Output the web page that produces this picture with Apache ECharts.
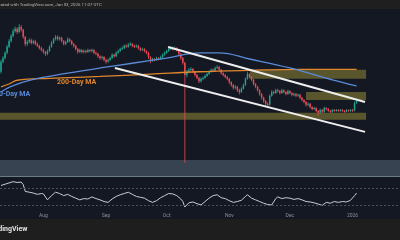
<!DOCTYPE html>
<html><head><meta charset="utf-8">
<script src="https://cdn.jsdelivr.net/npm/echarts@6/dist/echarts.min.js"></script>
<style>html,body{margin:0;padding:0;background:#141823;overflow:hidden}#c{width:400px;height:240px}</style>
</head><body><div id="c"></div>
<script>
// ---------- data ----------
const startDate = '2025-07-11';
const totalSlots = 198;           // daily slots incl. empty right margin
const open0 = 2.70;
const closes = [2.91,2.99,3.10,3.23,3.35,3.46,3.56,3.61,3.54,3.65,
3.59,3.44,3.29,3.33,3.37,3.31,3.35,3.29,3.25,3.20,
3.16,3.12,3.08,3.14,3.23,3.31,3.39,3.44,3.39,3.42,
3.35,3.29,3.33,3.39,3.35,3.29,3.25,3.18,3.12,3.16,
3.12,3.14,3.12,3.16,3.14,3.16,3.10,3.08,3.03,2.99,
3.01,2.95,2.91,2.95,2.99,3.06,3.03,3.10,3.14,3.18,
3.20,3.25,3.23,3.27,3.29,3.25,3.23,3.25,3.20,3.16,
3.18,3.14,3.10,3.01,2.93,2.97,2.95,2.99,2.97,3.01,
3.06,3.10,3.14,3.18,3.20,3.18,3.20,3.16,3.08,2.99,
2.89,2.63,2.70,2.74,2.76,2.70,2.63,2.57,2.50,2.55,
2.57,2.61,2.65,2.70,2.74,2.72,2.78,2.80,2.74,2.67,
2.63,2.59,2.55,2.48,2.42,2.36,2.38,2.31,2.27,2.34,
2.42,2.55,2.65,2.59,2.53,2.44,2.38,2.31,2.23,2.15,
2.08,2.02,2.00,2.19,2.27,2.25,2.31,2.29,2.25,2.31,
2.27,2.23,2.29,2.25,2.21,2.23,2.19,2.21,2.15,2.10,
2.06,2.00,2.02,1.95,1.91,1.93,1.87,1.83,1.89,1.85,
1.93,1.91,1.87,1.85,1.89,1.87,1.89,1.87,1.89,1.87,
1.85,1.89,1.87,1.89,1.88,2.04,2.08];
const highs = [2.95,3.03,3.13,3.27,3.39,3.50,3.61,3.66,3.64,3.71,
3.69,3.61,3.46,3.37,3.41,3.40,3.38,3.37,3.32,3.27,
3.23,3.19,3.14,3.17,3.26,3.35,3.42,3.48,3.47,3.45,
3.44,3.37,3.36,3.43,3.41,3.37,3.31,3.27,3.20,3.19,
3.18,3.17,3.17,3.19,3.18,3.19,3.18,3.13,3.10,3.05,
3.04,3.03,2.98,2.98,3.02,3.09,3.08,3.13,3.17,3.21,
3.24,3.28,3.28,3.31,3.33,3.31,3.28,3.28,3.27,3.22,
3.21,3.20,3.16,3.12,3.03,3.00,2.99,3.02,3.01,3.04,
3.09,3.13,3.17,3.22,3.24,3.23,3.24,3.22,3.18,3.10,
3.01,2.91,2.74,2.78,2.80,2.78,2.72,2.65,2.59,2.58,
2.60,2.64,2.68,2.73,2.77,2.77,2.81,2.84,2.82,2.76,
2.69,2.65,2.61,2.57,2.50,2.44,2.42,2.40,2.34,2.37,
2.45,2.58,2.70,2.67,2.61,2.55,2.46,2.40,2.33,2.25,
2.17,2.10,2.05,2.22,2.31,2.30,2.34,2.34,2.31,2.34,
2.33,2.29,2.32,2.31,2.27,2.26,2.25,2.24,2.23,2.17,
2.12,2.08,2.05,2.04,1.97,1.96,1.95,1.89,1.92,1.91,
1.96,1.95,1.93,1.89,1.91,1.91,1.91,1.91,1.91,1.91,
1.89,1.91,1.90,1.91,1.91,2.07,2.12];
const lows = [2.66,2.88,2.96,3.07,3.20,3.32,3.43,3.53,3.50,3.52,
3.55,3.40,3.24,3.25,3.30,3.28,3.28,3.26,3.22,3.17,
3.13,3.08,3.03,3.05,3.12,3.21,3.29,3.36,3.36,3.36,
3.32,3.26,3.26,3.31,3.32,3.26,3.21,3.15,3.08,3.10,
3.09,3.09,3.09,3.10,3.11,3.11,3.07,3.05,2.99,2.95,
2.96,2.92,2.87,2.89,2.93,2.97,3.00,3.01,3.08,3.12,
3.16,3.18,3.20,3.21,3.25,3.22,3.20,3.21,3.17,3.13,
3.14,3.11,3.07,2.97,2.88,2.91,2.92,2.93,2.94,2.95,
2.99,3.04,3.08,3.12,3.16,3.15,3.16,3.13,3.04,2.95,
2.85,0.77,2.58,2.67,2.71,2.67,2.60,2.54,2.46,2.47,
2.52,2.55,2.59,2.63,2.68,2.69,2.70,2.76,2.71,2.64,
2.60,2.56,2.52,2.44,2.38,2.32,2.33,2.27,2.22,2.25,
2.32,2.40,2.53,2.56,2.50,2.41,2.35,2.28,2.19,2.11,
2.04,1.97,1.93,1.98,2.17,2.22,2.23,2.26,2.22,2.23,
2.24,2.20,2.21,2.22,2.18,2.18,2.16,2.17,2.12,2.07,
2.03,1.96,1.97,1.92,1.88,1.89,1.84,1.77,1.81,1.82,
1.83,1.88,1.85,1.82,1.83,1.85,1.85,1.85,1.85,1.85,
1.83,1.84,1.85,1.85,1.85,1.86,2.02];
// moving averages: [day index, price]
const ma100 = [[0,2.27],[4.5,2.38],[15,2.53],[33,2.67],[49,2.78],[65,2.88],[82,2.99],[98.5,3.10],[108,3.10],[123,2.97],[143,2.78],[164,2.53],[176,2.40]];
const ma200 = [[0,2.38],[4,2.44],[8,2.52],[24,2.56],[49,2.60],[74,2.65],[98,2.70],[123,2.73],[148,2.75],[176,2.75]];
// RSI: [day index, value]
const rsi = [[0,76],[2,79],[4,82],[6,85],[8,83],[10,84],[11,78],[12,62],[14,60],[16,58],[18,55],[20,57],[21,56],[23,42],[25,52],[27,60],[29,57],[31,52],[33,55],[35,50],[37,46],[39,42],[41,45],[43,44],[45,49],[47,45],[49,42],[51,38],[53,36],[55,44],[57,50],[59,54],[61,57],[63,60],[65,55],[67,50],[69,48],[71,46],[73,40],[75,36],[77,40],[79,47],[81,52],[83,57],[85,56],[87,52],[89,44],[90,38],[91,25],[93,35],[95,37],[97,33],[99,30],[101,38],[103,46],[105,52],[107,54],[109,47],[111,45],[113,40],[115,36],[117,38],[119,41],[121,50],[122,54],[124,46],[126,42],[128,38],[130,34],[132,31],[134,30],[136,45],[137,49],[139,45],[141,47],[143,46],[145,43],[147,45],[149,42],[151,38],[153,37],[155,35],[157,32],[159,29],[161,36],[163,34],[165,38],[167,36],[169,38],[171,37],[173,41],[175,52],[176,58]];
const rsiLevels = [70, 30];
// trend channel: [day index, price]
const upperChannel = [[82.7,3.225],[180.2,2.06]];
const lowerChannel = [[56.4,2.78],[180.2,1.425]];
// horizontal zones: [fromDay, toDay, topPrice, bottomPrice]
const zones = [[123.3,180.7,2.74,2.55],[151.0,180.7,2.27,2.10],[-0.5,180.7,1.83,1.68]];
const lowBand = [-0.5,197.5,0.83,0.49];
const monthTicks = {21:'Aug',52:'Sep',82:'Oct',113:'Nov',143:'Dec',174:'2026'};
const maLabels = ['200-Day MA','100-Day MA'];

// ---------- build ----------
const cats = [];
{ const d0 = new Date(startDate + 'T00:00:00Z');
  for (let i = 0; i < totalSlots; i++) { const d = new Date(d0.getTime() + i*86400000); cats.push(d.toISOString().slice(0,10)); } }
const candles = closes.map((c,i) => [i, i === 0 ? open0 : closes[i-1], c, lows[i], highs[i]]);
const UP = '#22a48f', DOWN = '#ee4a55';

const chart = echarts.init(document.getElementById('c'), null, {renderer:'canvas'});
const FONT = 'Roboto, "Liberation Sans", sans-serif';
chart.setOption({
  backgroundColor: '#141823',
  animation: false,
  grid: [
    {left:0, right:0, top:9, height:167},
    {left:0, right:0, top:177, height:33}
  ],
  xAxis: [
    {type:'category', gridIndex:0, data:cats, boundaryGap:true, axisLine:{show:true, lineStyle:{color:'#6d7b86', width:1}}, axisTick:{show:false}, axisLabel:{show:false}, splitLine:{show:false}},
    {type:'value', gridIndex:0, min:-0.5, max:totalSlots-0.5, show:false},
    {type:'category', gridIndex:1, data:cats, boundaryGap:true, axisLine:{show:false}, axisTick:{show:false}, splitLine:{show:false},
      axisLabel:{show:true, interval:(i)=> monthTicks[i] !== undefined, formatter:(v,i)=> monthTicks[i] || '', margin:3, fontSize:5, color:'#8b8f99', fontFamily:FONT}},
    {type:'value', gridIndex:1, min:-0.5, max:totalSlots-0.5, show:false}
  ],
  yAxis: [
    {type:'value', gridIndex:0, min:0.49, max:4.03, show:false, splitLine:{show:false}},
    {type:'value', gridIndex:1, min:18, max:96, show:false, splitLine:{show:false}}
  ],
  series: [
    {type:'custom', xAxisIndex:0, yAxisIndex:0, data:candles, z:2, encode:{x:0, y:[1,2,3,4]},
      renderItem:(params, api) => {
        const i = api.value(0), o = api.value(1), c = api.value(2), l = api.value(3), h = api.value(4);
        const pO = api.coord([i, o]), pC = api.coord([i, c]), pL = api.coord([i, l]), pH = api.coord([i, h]);
        const w = api.size([1, 0])[0] * 0.72;
        const col = c >= o ? UP : DOWN;
        const x = pO[0];
        return {type:'group', children:[
          {type:'line', shape:{x1:x, y1:pL[1], x2:x, y2:pH[1]}, style:{stroke:col, lineWidth:0.8}},
          {type:'rect', shape:{x:x - w/2, y:Math.min(pO[1], pC[1]), width:w, height:Math.max(1, Math.abs(pO[1]-pC[1]))}, style:{fill:col}}
        ]};
      }},
    {type:'line', xAxisIndex:1, yAxisIndex:0, data:[], z:1, silent:true,
      markArea:{silent:true, itemStyle:{color:'rgba(120,150,165,0.35)'}, data:[[{coord:[lowBand[0],lowBand[2]]},{coord:[lowBand[1],lowBand[3]]}]]}},
    {type:'line', xAxisIndex:1, yAxisIndex:0, data:[], z:3, silent:true,
      markArea:{silent:true, itemStyle:{color:'rgba(185,175,60,0.42)'}, data: zones.map(z=>[{coord:[z[0],z[2]]},{coord:[z[1],z[3]]}])}},
    {type:'line', xAxisIndex:1, yAxisIndex:0, data:ma200, smooth:0.4, symbol:'none', z:4, lineStyle:{color:'#e0862e', width:1.3}},
    {type:'line', xAxisIndex:1, yAxisIndex:0, data:ma100, smooth:0.4, symbol:'none', z:4, lineStyle:{color:'#5a8ad8', width:1.3}},
    {type:'line', xAxisIndex:1, yAxisIndex:0, data:upperChannel, symbol:'none', z:5, lineStyle:{color:'#eeeeee', width:2}},
    {type:'line', xAxisIndex:1, yAxisIndex:0, data:lowerChannel, symbol:'none', z:5, lineStyle:{color:'#eeeeee', width:2}},
    {type:'line', xAxisIndex:3, yAxisIndex:1, data:rsi, symbol:'none', z:4, lineStyle:{color:'#c9ccd4', width:1},
      markLine:{silent:true, symbol:'none', label:{show:false}, lineStyle:{color:'#4a505e', type:[2,2], width:1}, data: rsiLevels.map(v=>({yAxis:v}))}}
  ],
  graphic: [
    {type:'rect', shape:{x:0,y:0,width:400,height:9}, style:{fill:'#1f1f20'}, z:10},
    {type:'text', x:-6, y:2.5, style:{text:'Created with TradingView.com, Jan 03, 2026 11:07 UTC', fill:'#b8b8b8', font:'4.4px ' + FONT}, z:11},
    {type:'rect', shape:{x:0,y:219,width:400,height:21}, style:{fill:'#1e1e1f'}, z:10},
    {type:'text', x:-12, y:226, style:{text:'TradingView', fill:'#e6e6e6', font:'bold 7px ' + FONT}, z:11},
    {type:'text', x:57, y:79, style:{text:maLabels[0], fill:'#e0862e', font:'bold 7px ' + FONT}, z:11},
    {type:'text', x:-9, y:91, style:{text:maLabels[1], fill:'#5a8ad8', font:'bold 7px ' + FONT}, z:11}
  ]
});
</script></body></html>
